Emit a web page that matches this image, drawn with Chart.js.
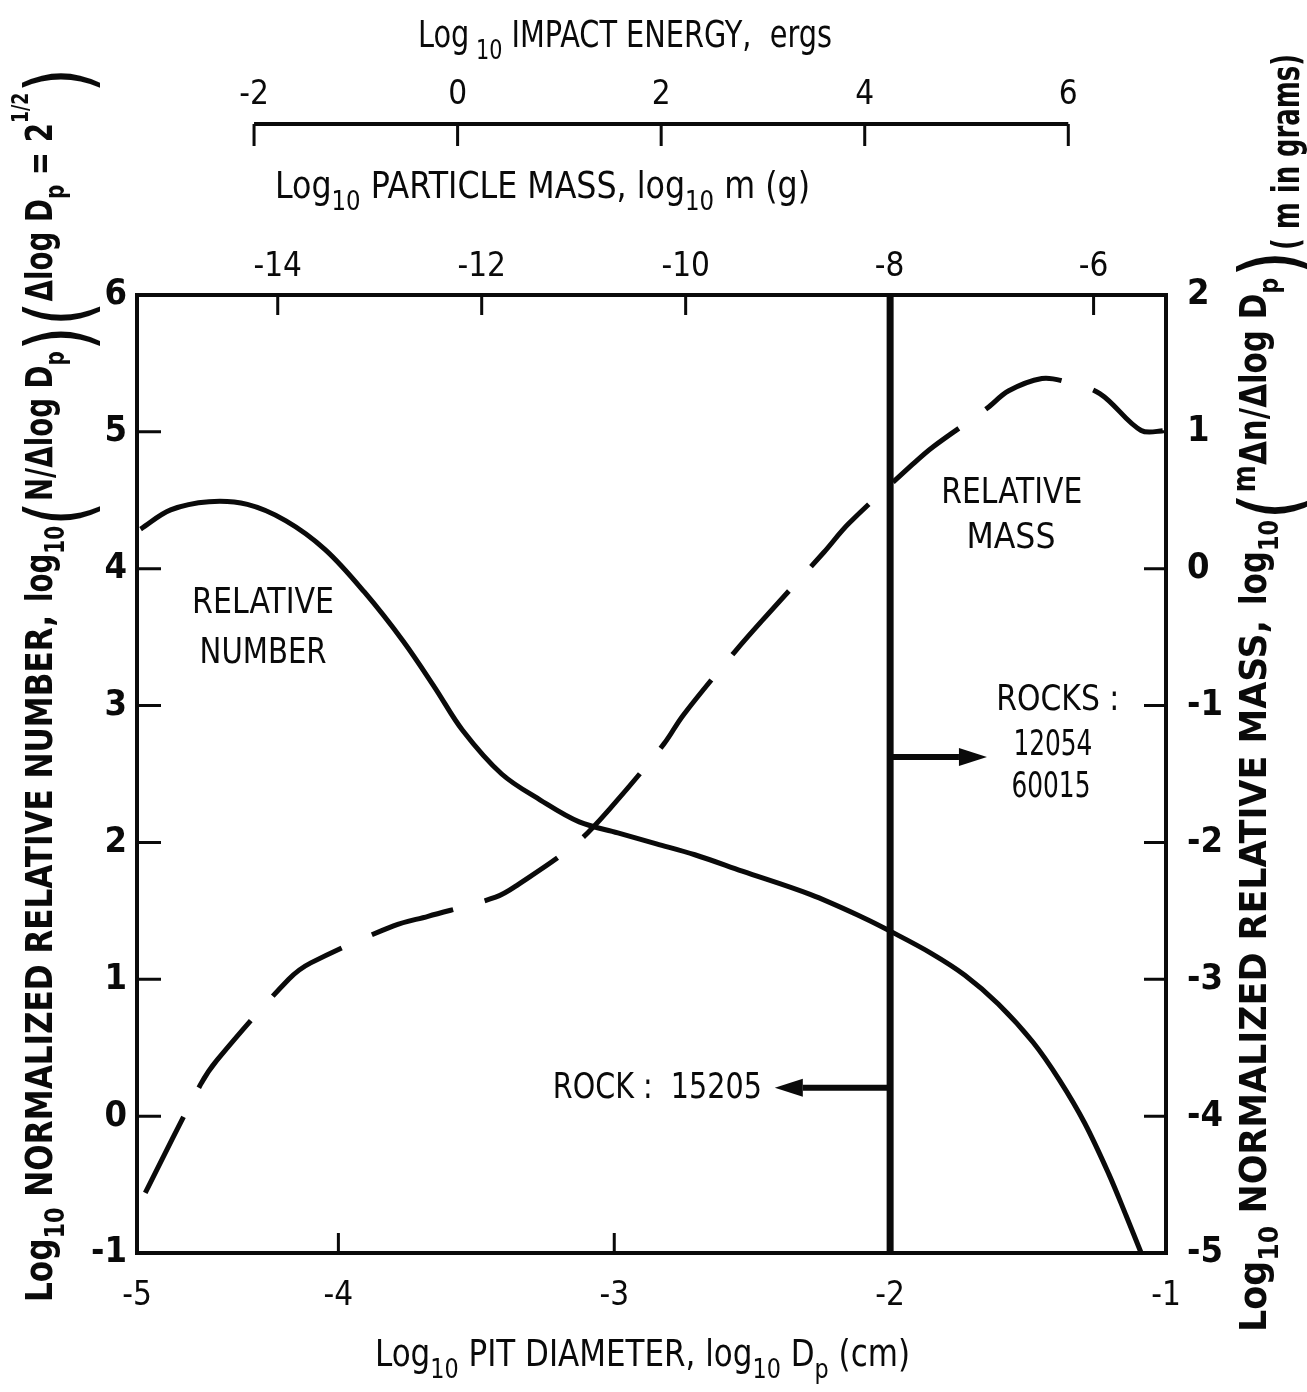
<!DOCTYPE html>
<html>
<head>
<meta charset="utf-8">
<script src="https://cdn.jsdelivr.net/npm/chart.js@4"></script>
<style>
  html, body { margin: 0; padding: 0; background: #fff; }
  #wrap { width: 1307px; height: 1392px; }
</style>
</head>
<body>
<div id="wrap"><canvas id="pits" width="1307" height="1392"></canvas></div>
<script>
const FONT = '"DejaVu Sans Condensed", "DejaVu Sans", sans-serif';
const INK = '#0a0a0a';

// bottom axis: log10 pit diameter (cm); the frame starts a little right of -5
const PIT_MIN = -4.73;
const PIT_MAX = -1;
const pitTickValues = [-4.73, -4, -3, -2, -1];
const pitTickLabels = ['-5', '-4', '-3', '-2', '-1'];

// top axes: log10 particle mass (g) and log10 impact energy (ergs)
const MASS_MIN = -15.38, MASS_MAX = -5.29;
const massTicks = [-14, -12, -10, -8, -6];
const ENERGY_MIN = -3.15, ENERGY_MAX = 6.96;
const energyTicks = [-2, 0, 2, 4, 6];

// relative number (left axis)
const pitNumber = [-4.717, -4.608, -4.469, -4.33, -4.19, -4.048, -3.906, -3.765, -3.65, -3.55,
  -3.408, -3.268, -3.127, -2.987, -2.847, -2.708, -2.536, -2.29, -2.097, -1.998,
  -1.851, -1.729, -1.608, -1.482, -1.385, -1.295, -1.208, -1.144, -1.09];
const relNumber = [4.29, 4.43, 4.49, 4.47, 4.35, 4.14, 3.83, 3.47, 3.13, 2.82,
  2.50, 2.31, 2.15, 2.07, 1.99, 1.91, 1.79, 1.62, 1.45, 1.35,
  1.19, 1.03, 0.82, 0.54, 0.26, -0.05, -0.42, -0.73, -1.0];

// relative mass (right axis)
const pitMass = [-4.70, -4.50, -4.44, -4.18, -4.10, -3.80, -3.675, -3.43, -3.35, -3.14,
  -3.01, -2.82, -2.75, -2.56, -2.46, -2.24, -2.15, -1.92, -1.845, -1.65,
  -1.57, -1.45, -1.37, -1.24, -1.09, -1.0];
const relMass = [-4.56, -3.77, -3.59, -3.00, -2.88, -2.61, -2.54, -2.40, -2.31, -2.01,
  -1.74, -1.28, -1.07, -0.60, -0.37, 0.12, 0.33, 0.76, 0.89, 1.17,
  1.30, 1.39, 1.37, 1.28, 1.01, 1.01];

// size of the largest pits on the rocks
const rockPit = [-2, -2];
const rockSpan = [-1, 6];

const pts = (xs, ys) => xs.map((x, i) => ({ x, y: ys[i] }));

// ---- text with subscripts, superscripts and tall brackets ----
function makeRuns(size, parts, bold) {
  return parts.map(([t, k]) => {
    if (k === 'sub') return { t, size: size * 0.72, dy: size * 0.32, bold };
    if (k === 'sup') return { t, size: size * 0.62, dy: -size * 0.62, bold };
    if (k === 'big') return { t, size: size * 2.3, dy: size * 0.95, bold: false };
    if (k === 'hi') return { t, size: size * 0.85, dy: -size * 0.3, bold };
    return { t, size, dy: 0, bold };
  });
}

function runFont(r) {
  return (r.bold ? 'bold ' : '') + r.size.toFixed(1) + 'px ' + FONT;
}

// draws runs from (x, y) along angle rot, squeezed to the given length
function drawRich(ctx, runs, x, y, rot, length, align) {
  ctx.save();
  ctx.translate(x, y);
  ctx.rotate(rot);
  let w = 0;
  runs.forEach(r => { ctx.font = runFont(r); w += ctx.measureText(r.t).width; });
  const k = length ? length / w : 1;
  ctx.scale(k, 1);
  let cx = align === 'center' ? -w / 2 : 0;
  ctx.textBaseline = 'alphabetic';
  ctx.textAlign = 'left';
  ctx.fillStyle = INK;
  runs.forEach(r => {
    ctx.font = runFont(r);
    ctx.fillText(r.t, cx, r.dy);
    cx += ctx.measureText(r.t).width;
  });
  ctx.restore();
}

const UP = -Math.PI / 2;
const titles = [
  { parts: [['Log', 'n'], [' 10', 'sub'], [' IMPACT ENERGY,  ergs', 'n']], size: 38, x: 418, y: 47, rot: 0, len: 414 },
  { parts: [['Log', 'n'], ['10', 'sub'], [' PARTICLE MASS, log', 'n'], ['10', 'sub'], [' m (g)', 'n']], size: 38, x: 275, y: 198, rot: 0, len: 535 },
  { parts: [['Log', 'n'], ['10', 'sub'], [' PIT DIAMETER, log', 'n'], ['10', 'sub'], [' D', 'n'], ['p', 'sub'], [' (cm)', 'n']], size: 38, x: 375, y: 1366, rot: 0, len: 535 },
  // left side, read upwards
  { parts: [['Log', 'n'], ['10', 'sub'], [' NORMALIZED RELATIVE NUMBER,', 'n']], size: 38, bold: true, x: 52, y: 1302, rot: UP, len: 687 },
  { parts: [['log', 'n'], ['10', 'sub'], ['(', 'big'], ['N/\u0394log D', 'n'], ['p', 'sub'], [')', 'big'], ['(', 'big'], ['\u0394log D', 'n'], ['p', 'sub'], [' = 2', 'n'], ['1/2', 'sup'], [')', 'big']],
    size: 38, bold: true, x: 52, y: 602, rot: UP, len: 534 },
  // right side, read upwards
  { parts: [['Log', 'n'], ['10', 'sub'], [' NORMALIZED RELATIVE MASS,', 'n']], size: 38, bold: true, x: 1266, y: 1332, rot: UP, len: 712 },
  { parts: [['log', 'n'], ['10', 'sub'], ['(', 'big'], ['m', 'hi'], ['\u0394n/\u0394log D', 'n'], ['p', 'sub'], [')', 'big']],
    size: 38, bold: true, x: 1266, y: 605, rot: UP, len: 355 },
  { parts: [['( m in grams)', 'n']], size: 37, bold: true, x: 1299, y: 250, rot: UP, len: 196 }
];

// labels inside the frame, anchored in data units
const notes = [
  { text: 'RELATIVE', x: -4.273, y: 3.68, w: 142 },
  { text: 'NUMBER', x: -4.273, y: 3.31, w: 127 },
  { text: 'RELATIVE', x: -1.559, y: 4.48, w: 141 },
  { text: 'MASS', x: -1.562, y: 4.15, w: 89 },
  { text: 'ROCKS :', x: -1.392, y: 2.97, w: 123 },
  { text: '12054', x: -1.41, y: 2.64, w: 79 },
  { text: '60015', x: -1.417, y: 2.33, w: 79 }
];
const leftNote = { text: 'ROCK :  15205', x: -2.465, y: 0.134, w: 209 };
const arrows = [
  { y: 2.625, to: -1.649 },
  { y: 0.207, to: -2.418 }
];

const framePlugin = {
  id: 'framePlugin',
  beforeDraw(chart) {
    const ctx = chart.ctx;
    ctx.save();
    ctx.fillStyle = '#fff';
    ctx.fillRect(0, 0, chart.width, chart.height);
    ctx.restore();
  },
  afterDraw(chart) {
    const { ctx, chartArea: a, scales: s } = chart;
    ctx.save();
    ctx.strokeStyle = INK;
    ctx.fillStyle = INK;
    ctx.lineCap = 'butt';

    // frame
    ctx.lineWidth = 4;
    ctx.strokeRect(a.left, a.top, a.right - a.left, a.bottom - a.top);

    // inward ticks
    ctx.lineWidth = 3;
    ctx.beginPath();
    s.x.ticks.forEach(t => {
      if (t.value <= PIT_MIN || t.value >= PIT_MAX) return;
      const px = s.x.getPixelForValue(t.value);
      ctx.moveTo(px, a.bottom); ctx.lineTo(px, a.bottom - 20);
    });
    s.mass.ticks.forEach(t => {
      const px = s.mass.getPixelForValue(t.value);
      ctx.moveTo(px, a.top); ctx.lineTo(px, a.top + 20);
    });
    s.y.ticks.forEach(t => {
      if (t.value >= 6 || t.value <= -1) return;
      const py = s.y.getPixelForValue(t.value);
      ctx.moveTo(a.left, py); ctx.lineTo(a.left + 24, py);
    });
    s.y2.ticks.forEach(t => {
      if (t.value >= 2 || t.value <= -5) return;
      const py = s.y2.getPixelForValue(t.value);
      ctx.moveTo(a.right, py); ctx.lineTo(a.right - 22, py);
    });
    ctx.stroke();

    // impact energy axis: a free line above the mass axis, ticks hanging down
    const e = s.energy;
    const ly = e.bottom - 16;
    const e0 = e.getPixelForValue(energyTicks[0]);
    const e1 = e.getPixelForValue(energyTicks[energyTicks.length - 1]);
    ctx.lineWidth = 4;
    ctx.beginPath();
    ctx.moveTo(e0, ly); ctx.lineTo(e1, ly);
    ctx.stroke();
    ctx.lineWidth = 3;
    ctx.beginPath();
    energyTicks.forEach(v => {
      const px = e.getPixelForValue(v);
      ctx.moveTo(px, ly); ctx.lineTo(px, ly + 22);
    });
    ctx.stroke();

    // arrows from the rock line
    const rx = s.x.getPixelForValue(rockPit[0]);
    arrows.forEach(ar => {
      const py = s.y.getPixelForValue(ar.y);
      const tip = s.x.getPixelForValue(ar.to);
      const dir = Math.sign(tip - rx);
      const base = tip - dir * 28;
      ctx.lineWidth = 6;
      ctx.beginPath();
      ctx.moveTo(rx, py); ctx.lineTo(base, py);
      ctx.stroke();
      ctx.beginPath();
      ctx.moveTo(tip, py);
      ctx.lineTo(base, py - 9);
      ctx.lineTo(base, py + 9);
      ctx.closePath();
      ctx.fill();
    });
    ctx.restore();

    // labels in the frame
    notes.forEach(n => {
      const px = s.x.getPixelForValue(n.x);
      const py = s.y.getPixelForValue(n.y);
      drawRich(ctx, makeRuns(36, [[n.text, 'n']]), px, py, 0, n.w, 'center');
    });
    const lx = s.x.getPixelForValue(leftNote.x) - leftNote.w;
    drawRich(ctx, makeRuns(36, [[leftNote.text, 'n']]), lx, s.y.getPixelForValue(leftNote.y), 0, leftNote.w, 'left');

    // axis titles
    titles.forEach(t => {
      drawRich(ctx, makeRuns(t.size, t.parts, t.bold), t.x, t.y, t.rot, t.len, 'left');
    });
  }
};

const tickFont = { family: FONT, size: 33 };
const sideFont = { family: FONT, size: 36, weight: 'bold' };
const hidden = { display: false, drawTicks: false };

new Chart(document.getElementById('pits'), {
  type: 'line',
  data: {
    datasets: [
      {
        label: 'RELATIVE NUMBER',
        data: pts(pitNumber, relNumber),
        yAxisID: 'y',
        borderColor: INK,
        borderWidth: 5,
        pointRadius: 0,
        tension: 0.35,
        fill: false
      },
      {
        label: 'RELATIVE MASS',
        data: pts(pitMass, relMass),
        yAxisID: 'y2',
        borderColor: INK,
        borderWidth: 5,
        borderDash: [85, 33],
        pointRadius: 0,
        tension: 0.35,
        fill: false
      },
      {
        label: 'ROCKS',
        data: pts(rockPit, rockSpan),
        yAxisID: 'y',
        borderColor: INK,
        borderWidth: 7,
        pointRadius: 0,
        fill: false
      }
    ]
  },
  options: {
    responsive: false,
    devicePixelRatio: 1,
    animation: false,
    layout: { padding: 0 },
    plugins: {
      legend: { display: false },
      tooltip: { enabled: false },
      title: { display: false }
    },
    scales: {
      x: {
        type: 'linear',
        position: 'bottom',
        min: PIT_MIN,
        max: PIT_MAX,
        grid: hidden,
        border: { display: false },
        afterBuildTicks: sc => { sc.ticks = pitTickValues.map(v => ({ value: v })); },
        afterFit: sc => { sc.height = 139; },
        ticks: {
          color: INK,
          font: tickFont,
          padding: 24,
          maxRotation: 0,
          callback: (v, i) => pitTickLabels[i]
        }
      },
      mass: {
        type: 'linear',
        position: 'top',
        weight: 0,
        min: MASS_MIN,
        max: MASS_MAX,
        grid: hidden,
        border: { display: false },
        afterBuildTicks: sc => { sc.ticks = massTicks.map(v => ({ value: v })); },
        afterFit: sc => { sc.height = 155; },
        ticks: { color: INK, font: tickFont, padding: 8, maxRotation: 0 }
      },
      energy: {
        type: 'linear',
        position: 'top',
        weight: 1,
        min: ENERGY_MIN,
        max: ENERGY_MAX,
        grid: hidden,
        border: { display: false },
        afterBuildTicks: sc => { sc.ticks = energyTicks.map(v => ({ value: v })); },
        afterFit: sc => { sc.height = 140; },
        ticks: { color: INK, font: tickFont, padding: 25, maxRotation: 0 }
      },
      y: {
        type: 'linear',
        position: 'left',
        min: -1,
        max: 6,
        grid: hidden,
        border: { display: false },
        afterFit: sc => { sc.width = 137; },
        ticks: { color: INK, font: sideFont, padding: 10, stepSize: 1 }
      },
      y2: {
        type: 'linear',
        position: 'right',
        min: -5,
        max: 2,
        grid: hidden,
        border: { display: false },
        afterFit: sc => { sc.width = 141; },
        ticks: { color: INK, font: sideFont, padding: 21, stepSize: 1 }
      }
    }
  },
  plugins: [framePlugin]
});
</script>
</body>
</html>
